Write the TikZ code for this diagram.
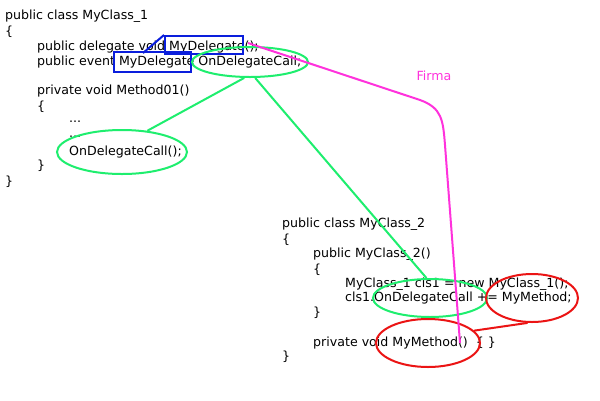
\documentclass[tikz,border=0pt]{standalone}
\usepackage{fontspec}
\setmainfont{DejaVu Sans}
\usetikzlibrary{shapes.geometric}
\definecolor{gcol}{RGB}{30,238,110}
\definecolor{mcol}{RGB}{255,50,220}
\definecolor{bcol}{RGB}{10,30,220}
\definecolor{rcol}{RGB}{235,20,20}
\begin{document}
\begin{tikzpicture}[x=1pt,y=-1pt,
  code/.style={anchor=west,inner sep=0pt,font=\fontsize{12.6}{14}\selectfont},
  gell/.style={draw=gcol,line width=2pt,ellipse,inner sep=0pt},
  rell/.style={draw=rcol,line width=2pt,ellipse,inner sep=0pt},
  bbox/.style={draw=bcol,line width=2pt,inner sep=0pt},
  gline/.style={draw=gcol,line width=2pt},
  rline/.style={draw=rcol,line width=2pt},
  mline/.style={draw=mcol,line width=2pt}]
\useasboundingbox (0,0) rectangle (600,400);
\fill[white] (0,0) rectangle (600,400);
% class 1
\node[code] (a1) at (5,16) {public class MyClass\_1};
\node[code] (a2) at (5,32) {\{};
\node[code] (a3) at (37,47) {public delegate void MyDelegate();};
\node[code] (a4) at (37,62) {public event MyDelegate OnDelegateCall;};
\node[code] (a5) at (37,91) {private void Method01()};
\node[code] (a6) at (37,107) {\{};
\node[code] (a7) at (69,122) {...};
\node[code] (a8) at (69,137) {...};
\node[code] (a9) at (69,152) {OnDelegateCall();};
\node[code] (a10) at (37,166) {\}};
\node[code] (a11) at (5,182) {\}};
% class 2
\node[code] (b1) at (282,224) {public class MyClass\_2};
\node[code] (b2) at (282,240) {\{};
\node[code] (b3) at (313,254) {public MyClass\_2()};
\node[code] (b4) at (313,270) {\{};
\node[code] (b5) at (345,284) {MyClass\_1 cls1 = new MyClass\_1();};
\node[code] (b6) at (345,298) {cls1.OnDelegateCall += MyMethod;};
\node[code] (b7) at (313,313) {\}};
\node[code] (b8) at (313,343) {private void MyMethod()\ \ \{ \}};
\node[code] (b9) at (282,357) {\}};
\node[text=mcol,font=\fontsize{12.6}{14}\selectfont] (firma) at (434,76) {Firma};
% boxes
\node[bbox,minimum width=78pt,minimum height=18pt] (r1) at (204,45) {};
\node[bbox,minimum width=77pt,minimum height=20pt] (r2) at (152.5,62) {};
\draw[bcol,line width=2pt] (r1.north west) -- (143,53);
% ellipses
\node[gell,minimum width=116pt,minimum height=30pt] (e1) at (250,62) {};
\node[gell,minimum width=130pt,minimum height=44pt] (e2) at (122,152) {};
\node[gell,minimum width=114pt,minimum height=38pt] (e3) at (430,298) {};
\node[rell,minimum width=92pt,minimum height=48pt] (e4) at (532,298) {};
\node[rell,minimum width=104pt,minimum height=48pt] (e5) at (428,343) {};
% connectors
\draw[gline] (e1.-110) -- (e2.40);
\draw[gline] (e1.-72) -- (e3.100);
\draw[rline] (e5.15) -- (e4.-100);
\coordinate (m0) at (248,43);
\coordinate (m1) at (460,343);
\draw[mline] (m0) -- (420,100) .. controls (442,108) and (443,120) .. (445,145) -- (m1);
\end{tikzpicture}
\end{document}
